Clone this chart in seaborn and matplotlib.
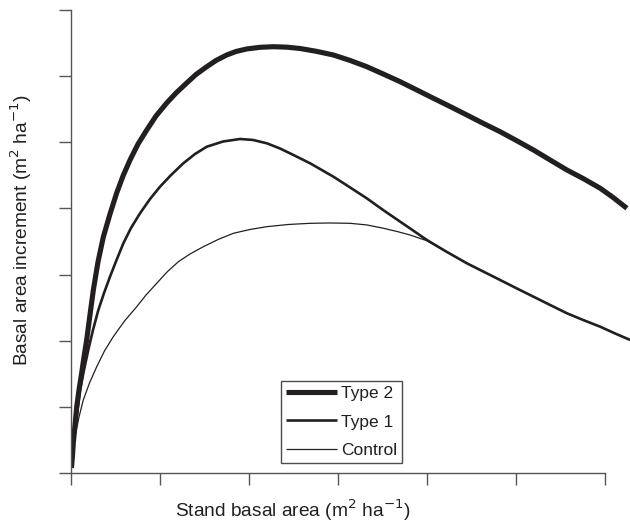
import matplotlib
matplotlib.use("Agg")
import matplotlib.pyplot as plt
import seaborn as sns

sns.set_theme(style="white")
plt.rcParams['font.family'] = ['Liberation Sans', 'DejaVu Sans']

# Data (x in tick units 0..6, y in tick units 0..7)
type2_x = [0.005, 0.017, 0.026, 0.045, 0.064, 0.090, 0.120, 0.146, 0.176, 0.213, 0.251,
           0.303, 0.363, 0.438, 0.513, 0.584, 0.663, 0.753, 0.851, 0.955, 1.075, 1.180,
           1.300, 1.404, 1.525, 1.629, 1.749, 1.854, 1.974, 2.124, 2.273, 2.427, 2.573,
           2.753, 2.947, 3.135, 3.322, 3.506, 3.697, 3.884, 4.071, 4.258, 4.446, 4.629,
           4.820, 5.008, 5.194, 5.382, 5.570, 5.753, 5.944, 6.090, 6.244]
type2_y = [0.076, 0.272, 0.454, 0.726, 0.998, 1.255, 1.512, 1.754, 2.011, 2.389, 2.767,
           3.190, 3.568, 3.916, 4.233, 4.490, 4.732, 4.974, 5.186, 5.398, 5.594, 5.745,
           5.897, 6.025, 6.143, 6.237, 6.320, 6.373, 6.411, 6.436, 6.445, 6.438, 6.418,
           6.376, 6.320, 6.237, 6.143, 6.033, 5.916, 5.791, 5.665, 5.541, 5.413, 5.287,
           5.160, 5.023, 4.884, 4.732, 4.581, 4.452, 4.305, 4.165, 4.002]

type1_x = [0.005, 0.022, 0.045, 0.073, 0.101, 0.146, 0.194, 0.247, 0.307, 0.371, 0.438,
           0.511, 0.588, 0.674, 0.775, 0.888, 1.000, 1.124, 1.262, 1.393, 1.525, 1.708,
           1.899, 2.045, 2.199, 2.348, 2.498, 2.685, 2.947, 3.135, 3.322, 3.506, 3.697,
           3.843, 3.997, 4.213, 4.446, 4.629, 4.820, 5.008, 5.194, 5.382, 5.570, 5.753,
           5.944, 6.112, 6.281]
type1_y = [0.106, 0.378, 0.650, 0.953, 1.255, 1.557, 1.860, 2.162, 2.464, 2.721, 2.968,
           3.218, 3.473, 3.704, 3.926, 4.143, 4.329, 4.505, 4.683, 4.823, 4.933, 5.012,
           5.050, 5.035, 4.985, 4.906, 4.808, 4.683, 4.480, 4.317, 4.153, 3.976, 3.800,
           3.666, 3.523, 3.349, 3.171, 3.047, 2.918, 2.790, 2.666, 2.540, 2.415, 2.313,
           2.212, 2.109, 2.011]

control_x = [0.005, 0.022, 0.045, 0.090, 0.138, 0.208, 0.289, 0.376, 0.475, 0.601, 0.738,
             0.843, 0.963, 1.079, 1.206, 1.337, 1.487, 1.652, 1.824, 2.011, 2.199, 2.438,
             2.685, 2.910, 3.135, 3.326, 3.509, 3.663, 3.809, 3.997, 4.213, 4.446, 4.629,
             4.820, 5.008, 5.194, 5.382, 5.570, 5.753, 5.944, 6.112, 6.281]
control_y = [0.106, 0.348, 0.549, 0.847, 1.104, 1.361, 1.607, 1.845, 2.061, 2.298, 2.514,
             2.691, 2.868, 3.039, 3.195, 3.311, 3.422, 3.530, 3.624, 3.682, 3.724, 3.757,
             3.775, 3.780, 3.775, 3.750, 3.700, 3.651, 3.598, 3.512, 3.349, 3.171, 3.047,
             2.918, 2.790, 2.666, 2.540, 2.415, 2.313, 2.212, 2.109, 2.011]

x_ticks = [0, 1, 2, 3, 4, 5, 6]
y_ticks = [0, 1, 2, 3, 4, 5, 6, 7]

ink = "#231f20"

fig = plt.figure(figsize=(6.3, 5.28), dpi=100)
ax = fig.add_axes([71/630, 1 - 473/528, 560/630, 463/528])

for xs, ys, lw, lab in [(type2_x, type2_y, 3.7, "Type 2"),
                        (type1_x, type1_y, 1.9, "Type 1"),
                        (control_x, control_y, 0.9, "Control")]:
    sns.lineplot(x=xs, y=ys, ax=ax, color=ink, linewidth=lw, label=lab,
                 sort=False, estimator=None, solid_joinstyle='round',
                 solid_capstyle='butt')

ax.set_xlim(0, 6.29)
ax.set_ylim(0, 7)
ax.set_xticks(x_ticks)
ax.set_yticks(y_ticks)
ax.set_xticklabels([])
ax.set_yticklabels([])
ax.tick_params(axis='both', direction='out', length=8.6, width=1.0, color="#555555",
               bottom=True, left=True)

for s in ['top', 'right']:
    ax.spines[s].set_visible(False)
for s in ['left', 'bottom']:
    ax.spines[s].set_color("#555555")
    ax.spines[s].set_linewidth(1.0)
ax.spines['bottom'].set_bounds(0, 6)
ax.spines['left'].set_bounds(0, 7)

ax.set_xlabel("Stand basal area (m$^{2}$ ha$^{-1}$)", fontsize=13.8, color=ink, va='center')
ax.set_ylabel("Basal area increment (m$^{2}$ ha$^{-1}$)", fontsize=13.8, color=ink, va='center')
ax.xaxis.set_label_coords((293-71)/560, (473-510)/463)
ax.yaxis.set_label_coords((21-71)/560, (473-230)/463)

leg = ax.legend(loc='upper left', bbox_to_anchor=((281-71)/560, (473-381)/463),
                borderaxespad=0, frameon=True, fancybox=False, fontsize=12.5,
                handlelength=2.9, handletextpad=0.25, labelspacing=0.75,
                borderpad=0.3)
leg.get_frame().set_edgecolor(ink)
leg.get_frame().set_linewidth(1.0)
for t in leg.get_texts():
    t.set_color(ink)

fig.savefig("out.png", dpi=100)
